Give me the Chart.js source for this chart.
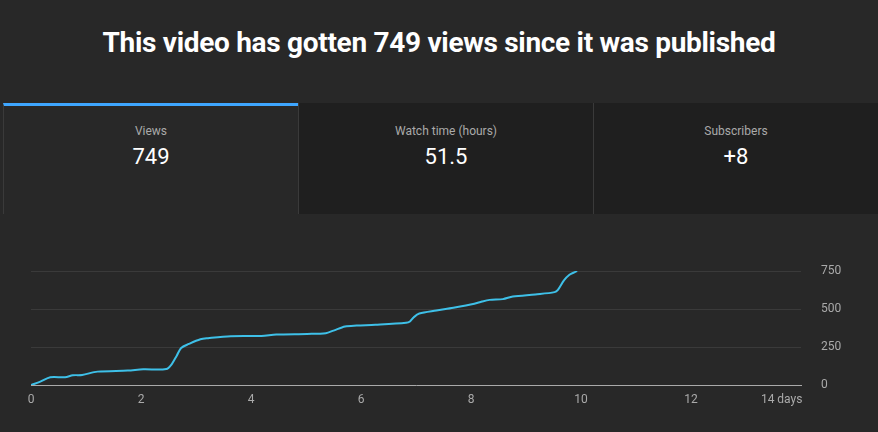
<!DOCTYPE html>
<html><head><meta charset="utf-8">
<script src="https://cdn.jsdelivr.net/npm/chart.js@4"></script>
<style>
body{margin:0;background:#282828;width:878px;height:432px;overflow:hidden;font-family:Roboto,sans-serif;color:#fff;position:relative}
h1{position:absolute;top:26px;left:0;width:878px;margin:0;text-align:center;font-size:28px;font-weight:bold;letter-spacing:-0.3px}
.tabs{position:absolute;top:103px;left:3px;right:0;height:111px;display:flex}
.tab{flex:0 0 295px;background:#1f1f1f;border-left:1px solid #3a3a3a;text-align:center;box-sizing:border-box}
.tab.on{background:#282828;border-top:3px solid #3ea6ff;border-left:1px solid #3a3a3a}
.tab:last-child{flex:1}
.lab{font-size:12px;color:#aaa;margin-top:21px}
.tab.on .lab{margin-top:18px}
.val{font-size:22px;margin-top:6px}
#wrap{position:absolute;top:214px;left:0;width:878px;height:218px}
</style></head><body>
<h1>This video has gotten 749 views since it was published</h1>
<div class="tabs">
<div class="tab on"><div class="lab">Views</div><div class="val">749</div></div>
<div class="tab"><div class="lab">Watch time (hours)</div><div class="val">51.5</div></div>
<div class="tab"><div class="lab">Subscribers</div><div class="val">+8</div></div>
</div>
<div id="wrap"><canvas id="c"></canvas></div>
<script>
var days=[0,0.17,0.35,0.62,0.76,0.93,1.21,1.76,2.04,2.46,2.56,2.65,2.73,2.87,3.08,3.22,3.63,4.19,4.46,5.02,5.36,5.5,5.71,5.92,6.26,6.82,6.89,6.96,7.06,7.37,7.68,8.06,8.2,8.34,8.58,8.76,9.17,9.52,9.58,9.69,9.79,9.89,9.93];
var views=[0,22,51,51,64,66,88,95,103,105,138,193,244,270,301,308,321,323,332,336,341,358,385,391,396,409,418,446,470,490,508,534,549,560,565,582,596,611,626,688,725,743,749];
var xTicks=[0,2,4,6,8,10,12,14];
var yTicks=[0,250,500,750];

var pts=days.map(function(d,i){return {x:d,y:views[i]};});
new Chart(document.getElementById('c'),{
  type:'line',
  data:{datasets:[{data:pts,borderColor:'#3ec0e8',borderWidth:2,pointRadius:0,tension:0.3,fill:false}]},
  options:{
    responsive:true,maintainAspectRatio:false,animation:false,
    layout:{padding:{left:31,top:57,bottom:17,right:0}},
    plugins:{legend:{display:false},tooltip:{enabled:false}},
    scales:{
      x:{type:'linear',min:0,max:14,
        afterBuildTicks:function(a){a.ticks=xTicks.map(function(v){return {value:v};});},
        afterFit:function(a){a.height=30;},
        grid:{display:false,drawTicks:false},
        border:{color:'#aaa'},
        ticks:{color:'#aaa',font:{family:'Roboto',size:12},padding:8,maxRotation:0,
          callback:function(v){return v===14?'14 days\u00a0\u00a0\u00a0\u00a0\u00a0\u00a0\u00a0\u00a0\u00a0\u00a0\u00a0\u00a0\u00a0':v;}}},
      y:{position:'right',min:0,max:750,
        afterBuildTicks:function(a){a.ticks=yTicks.map(function(v){return {value:v};});},
        afterFit:function(a){a.width=77;},
        grid:{color:'#3a3a3a',drawTicks:false},
        border:{display:false},
        ticks:{color:'#aaa',font:{family:'Roboto',size:12},padding:20}}
    }
  }
});
</script>
</body></html>
